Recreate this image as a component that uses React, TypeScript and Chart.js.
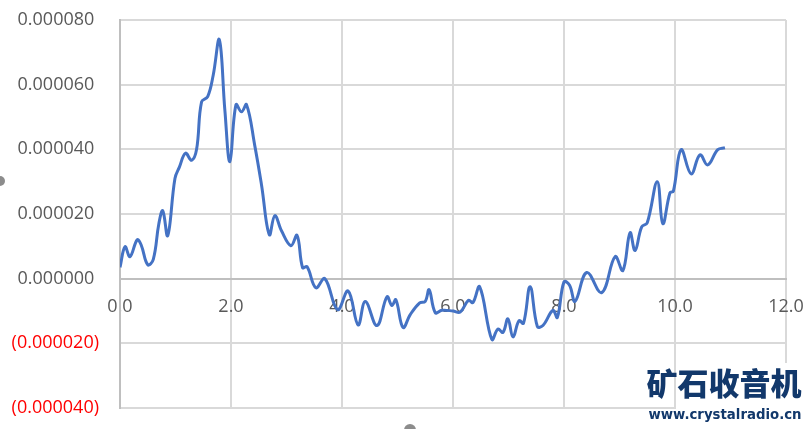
import React, { useEffect, useRef } from "react";
import { Chart, registerables } from "chart.js";

Chart.register(...registerables);

// x positions (same units as the horizontal axis)
const xValues: number[] = [
  0.0, 0.09, 0.18, 0.31, 0.38, 0.5, 0.6, 0.7, 0.77, 0.86, 0.99, 1.07, 1.18, 1.29, 1.38,
  1.47, 1.58, 1.68, 1.79, 1.89, 1.98, 2.09, 2.19, 2.28, 2.43, 2.55, 2.69, 2.79, 2.91,
  3.08, 3.19, 3.29, 3.37, 3.53, 3.69, 3.92, 4.11, 4.29, 4.42, 4.63, 4.81, 4.9, 4.97,
  5.1, 5.23, 5.4, 5.5, 5.57, 5.68, 5.8, 6.0, 6.13, 6.28, 6.36, 6.48, 6.7, 6.81, 6.9,
  6.99, 7.08, 7.19, 7.27, 7.39, 7.52, 7.62, 7.8, 7.88, 8.0, 8.1, 8.2, 8.41, 8.68,
  8.92, 9.06, 9.19, 9.28, 9.4, 9.5, 9.68, 9.78, 9.91, 9.97, 10.11, 10.29, 10.45,
  10.59, 10.77, 10.9,
];

// y values in millionths (×1e-6)
const yMicro: number[] = [
  3.5, 9.9, 6.8, 12, 10.5, 4.3, 6, 17, 21, 13.3, 31, 34.5, 38.8, 36.6, 40,
  54.7, 56.3, 63, 73.9, 52, 36.2, 53.8, 51.6, 53.8, 41, 29, 13.6, 19.5, 14.8,
  10.2, 13.4, 3.4, 3.7, -2.8, 0, -9.6, -3.8, -14.3, -7.1, -14.5, -5.6, -8.3, -6.5,
  -15.1, -11.1, -7.5, -7, -3.4, -10.5, -9.8, -10, -10.3, -6.7, -7.4, -2.5, -18.8, -15.6, -16.6,
  -12.4, -18, -13, -13.8, -2.5, -14.8, -14.5, -9.8, -12, -1, -2, -7, 1.9, -4.3,
  6.8, 2.5, 14.2, 8.7, 16, 17.3, 30, 17, 26.6, 27, 39.9, 32.4, 38.3,
  35.2, 39.9, 40.5,
];

const yMin = -0.00004;
const yMax = 0.00008;
const yStep = 0.00002;
const xMin = 0;
const xMax = 12;
const xStep = 2;

const watermarkTitle = "矿石收音机";
const watermarkUrl = "www.crystalradio.cn";

export default function App() {
  const canvasRef = useRef<HTMLCanvasElement | null>(null);

  useEffect(() => {
    document.body.style.margin = "0";
    const canvas = canvasRef.current;
    if (!canvas) return;
    const points = xValues.map((x, i) => ({ x, y: yMicro[i] * 1e-6 }));
    const font = { family: "'Open Sans', sans-serif", size: 18 };
    const chart = new Chart(canvas, {
      type: "scatter",
      data: {
        datasets: [
          {
            data: points,
            showLine: true,
            borderColor: "#4472C4",
            borderWidth: 3,
            pointRadius: 0,
            pointHoverRadius: 0,
            tension: 0.4,
            fill: false,
          },
        ],
      },
      options: {
        responsive: false,
        animation: false,
        devicePixelRatio: 1,
        layout: { padding: { left: 0, top: 20, right: 25, bottom: 21 } },
        plugins: {
          legend: { display: false },
          tooltip: { enabled: false },
          title: { display: false },
        },
        scales: {
          x: {
            type: "linear",
            position: { y: 0 } as any,
            min: xMin,
            max: xMax,
            afterFit: (scale: any) => {
              scale.paddingLeft = 0;
              scale.paddingRight = 0;
            },
            ticks: {
              stepSize: xStep,
              color: "#595959",
              font,
              padding: 17,
              maxRotation: 0,
              callback: (v: any) => Number(v).toFixed(1),
            },
            grid: {
              color: (ctx: any) => (ctx.tick && ctx.tick.value === 0 ? "#BFBFBF" : "#D9D9D9"),
              lineWidth: 2,
              drawTicks: false,
            },
            border: { color: "#BFBFBF", width: 2 },
          },
          y: {
            type: "linear",
            position: "left",
            min: yMin,
            max: yMax,
            afterFit: (scale: any) => {
              scale.width = 120;
              scale.paddingTop = 0;
              scale.paddingBottom = 0;
            },
            ticks: {
              stepSize: yStep,
              font,
              padding: 21,
              color: (ctx: any) => (ctx.tick && ctx.tick.value < -1e-12 ? "#FF0000" : "#595959"),
              callback: (v: any) => {
                const n = Number(v);
                const s = Math.abs(n).toFixed(6);
                return n < -1e-12 ? `(${s})` : s + " ";
              },
            },
            grid: {
              color: (ctx: any) =>
                ctx.tick && Math.abs(ctx.tick.value) < 1e-12 ? "#BFBFBF" : "#D9D9D9",
              lineWidth: 2,
              drawTicks: false,
            },
            border: { color: "#BFBFBF", width: 2 },
          },
        },
      },
    });
    return () => chart.destroy();
  }, []);

  return (
    <div style={{ position: "relative", width: 811, height: 429, overflow: "hidden", background: "#fff" }}>
      <canvas ref={canvasRef} width={811} height={429} style={{ display: "block" }} />
      <div
        style={{
          position: "absolute",
          left: 676,
          top: 363,
          width: 135,
          height: 66,
          background: "#fff",
        }}
      />
      <div
        style={{
          position: "absolute",
          left: 643,
          top: 362,
          width: 162,
          textAlign: "center",
          color: "#12386B",
          fontFamily: "'Noto Sans CJK SC', sans-serif",
          fontWeight: 900,
          fontSize: 31,
          lineHeight: "40px",
          whiteSpace: "nowrap",
        }}
      >
        {watermarkTitle}
      </div>
      <div
        style={{
          position: "absolute",
          left: 645,
          top: 405,
          width: 160,
          textAlign: "center",
          color: "#12386B",
          fontFamily: "'DejaVu Sans', sans-serif",
          fontWeight: 700,
          fontSize: 13.3,
          lineHeight: "20px",
          whiteSpace: "nowrap",
        }}
      >
        {watermarkUrl}
      </div>
      <div
        style={{
          position: "absolute",
          left: -5,
          top: 176,
          width: 10,
          height: 10,
          borderRadius: 5,
          background: "#8C8C8C",
        }}
      />
      <div
        style={{
          position: "absolute",
          left: 404,
          top: 424,
          width: 12,
          height: 12,
          borderRadius: 6,
          background: "#8C8C8C",
        }}
      />
    </div>
  );
}
